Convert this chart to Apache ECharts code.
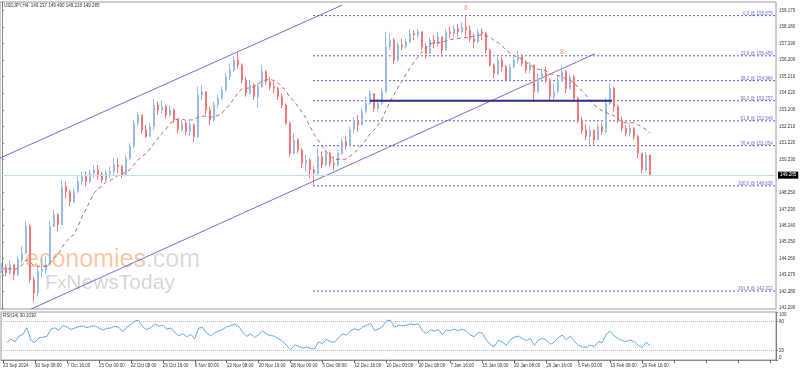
<!DOCTYPE html>
<html><head><meta charset="utf-8">
<script src="https://cdn.jsdelivr.net/npm/echarts@6/dist/echarts.min.js"></script>
<style>html,body{margin:0;padding:0;background:#fff}#c{width:800px;height:372px}</style>
</head><body><div id="c"></div>
<script>
const symbolTitle = 'USDJPY,H4  149.237 149.490 149.218 149.285';
const rsiTitle = 'RSI(14) 30.1030';
const dateLabels = ['23 Sep 2024','30 Sep 08:00','7 Oct 16:00','15 Oct 00:00','22 Oct 08:00','29 Oct 16:00','6 Nov 00:00','13 Nov 08:00','20 Nov 16:00','28 Nov 00:00','5 Dec 08:00','12 Dec 16:00','20 Dec 00:00','30 Dec 08:00','7 Jan 16:00','15 Jan 00:00','22 Jan 08:00','29 Jan 16:00','6 Feb 00:00','13 Feb 08:00','20 Feb 16:00'];
const totalBars = 194;
const firstOpen = 143.6;
const closes = [143.75,143.4,143.9,143.3,144.2,144.6,146.2,143.0,142.2,143.5,143.6,143.9,146.2,146.9,146.3,148.6,148.3,147.7,148.3,148.9,
149.2,148.9,149.4,149.6,149.3,149.0,149.4,149.5,149.9,149.8,149.3,150.3,151.0,152.4,152.9,152.0,151.6,152.2,153.5,153.2,
153.4,152.9,153.2,152.6,152.0,152.4,151.9,152.3,151.6,154.1,154.3,153.2,152.6,153.5,153.9,154.4,155.2,155.6,156.2,155.9,
155.0,154.2,154.7,154.0,154.6,155.5,154.9,154.6,154.5,154.0,153.5,152.4,150.6,151.4,150.8,150.0,150.2,149.6,149.4,150.4,
149.9,150.6,150.0,149.9,150.6,151.3,151.1,152.0,152.5,152.3,153.1,153.6,154.2,153.3,153.6,154.3,157.0,157.4,156.2,157.1,
157.0,157.3,157.8,157.7,157.9,157.0,156.6,157.4,157.2,157.6,156.8,157.9,157.8,158.1,157.9,158.2,158.0,157.5,157.3,157.9,
157.8,156.8,155.9,155.4,156.2,155.8,155.0,155.8,156.2,156.4,156.0,155.6,155.9,154.3,155.1,155.4,155.0,154.0,154.3,155.0,
155.5,154.5,155.2,153.9,152.6,152.0,151.6,152.0,151.4,152.2,151.9,153.6,154.5,153.4,152.6,152.1,151.8,152.1,151.6,150.6,
149.6,150.5,149.285];
const highs = [144.0,143.9,144.2,143.9,144.4,145.0,146.5,146.3,143.2,143.8,144.3,144.4,146.5,147.2,147.0,149.0,148.9,148.4,148.5,149.2,
149.5,149.5,149.6,149.9,149.9,149.5,149.6,149.8,150.3,150.3,149.9,150.5,151.2,152.6,153.1,152.9,152.3,152.4,153.85,153.7,
153.8,153.5,153.5,153.3,152.7,152.6,152.5,152.5,152.4,154.6,154.7,154.3,153.4,153.7,154.1,154.6,155.4,156.0,156.4,156.75,
156.0,155.2,155.0,154.8,154.8,155.9,155.6,155.2,154.9,154.6,154.2,153.6,152.5,151.8,151.5,150.9,150.5,150.3,149.8,150.9,
150.7,150.8,150.7,150.4,150.8,151.5,151.6,152.2,152.8,152.9,153.3,154.0,154.4,154.2,153.9,154.5,157.9,157.8,157.5,157.3,
157.5,157.5,158.05,158.0,158.1,157.9,157.2,157.6,157.7,157.9,157.6,158.1,158.2,158.3,158.35,158.5,158.875,158.3,157.8,158.1,
158.1,157.9,156.9,156.0,156.4,156.4,155.9,156.0,156.4,156.75,156.6,156.2,156.1,155.9,155.4,155.7,155.8,155.1,154.8,155.3,
155.9,155.6,155.4,155.3,154.0,152.8,152.3,152.2,152.0,152.4,152.4,153.9,154.8,154.6,153.5,152.8,152.3,152.4,152.2,151.7,
150.6,150.7,150.5];
const lows = [143.4,143.2,143.3,142.95,143.2,144.0,144.5,142.8,141.65,142.0,143.1,143.3,143.9,146.5,145.9,146.3,147.9,147.4,147.6,148.2,
148.7,148.6,148.8,149.1,149.0,148.8,148.9,149.1,149.3,149.4,149.1,149.2,150.2,150.9,152.2,151.8,151.5,151.6,152.0,152.9,
153.0,152.7,152.8,152.4,151.8,151.9,151.7,151.6,151.27,151.5,153.8,152.9,152.3,152.5,153.3,153.8,154.3,155.0,155.5,155.7,
154.8,154.0,154.1,153.8,153.3,154.5,154.7,154.4,154.2,153.8,153.3,152.3,150.4,150.5,150.6,149.7,149.5,149.1,148.64,149.3,
149.7,149.8,149.8,149.6,149.8,150.5,150.8,151.0,151.8,151.9,152.3,153.0,153.5,153.1,153.1,153.5,154.2,156.8,156.0,156.1,
156.8,156.9,157.2,157.4,157.5,156.8,156.3,156.6,156.9,157.0,156.4,156.8,157.5,157.6,157.6,157.8,157.6,157.3,156.9,157.2,
157.4,156.6,155.8,155.1,155.3,155.5,154.9,155.0,155.7,156.0,155.8,155.4,155.4,153.7,154.2,154.9,154.8,153.8,153.8,154.2,
154.9,154.2,154.4,153.7,152.4,151.8,151.4,151.1,151.1,151.4,151.7,151.8,153.5,153.1,152.4,151.9,151.6,151.6,151.4,150.3,
149.4,149.5,149.218];
const priceTicks = [159.17,158.18,157.19,156.2,155.21,154.22,153.2,152.21,151.22,150.23,148.25,147.23,146.24,145.25,144.26,143.27,142.28,141.29];
const rsiTicks = [0,20,80,100];
const rsiLevels = [20,80];
const fibLevels = [0,23.6,38.2,50,61.8,76.4,100,161.8];
const fibPrices = [158.875,156.459,154.964,153.757,152.549,151.054,148.638,142.312];
const fibStartBar = 77.75;
const fibEndBar = 193.5;
const fibLabelBar = 192.8;
const channelUpper = [[-0.5,150.31],[85,159.5]];
const channelLower = [[7.25,141.23],[148.25,156.58]];
const pivotLine = [[92,153.757],[152.5,153.757]];
const markers = [[116,159.33],[140,156.69]];
const maPeriod = 12;
const rsiPeriod = 8;
const priceMin = 141.233, priceMax = 159.693;

const FONT = 'Liberation Sans';
const ohlc = closes.map((c,i)=>{const o=i===0?firstOpen:closes[i-1];return [o,c,Math.min(lows[i],o,c),Math.max(highs[i],o,c)];});
const ma = closes.map((c,i)=>{const s=Math.max(0,i-maPeriod+1);let t=0;for(let k=s;k<=i;k++)t+=closes[k];return +(t/(i-s+1)).toFixed(3);});
const rsi = (()=>{const out=[];let ag=0,al=0;for(let i=0;i<closes.length;i++){if(i===0){out.push(null);continue;}const d=closes[i]-closes[i-1];const g=Math.max(d,0),l=Math.max(-d,0);if(i===1){ag=Math.max(g,0.2);al=Math.max(l,0.2);}else{ag=(ag*(rsiPeriod-1)+g)/rsiPeriod;al=(al*(rsiPeriod-1)+l)/rsiPeriod;}out.push(al===0?100:+(100-100/(1+ag/al)).toFixed(2));}return out;})();
const cats = Array.from({length: totalBars}, (_, i) => String(i));
const lastClose = closes[closes.length-1];

const series = [];
series.push({type:'candlestick', xAxisIndex:0, yAxisIndex:0, data:ohlc, barWidth:2, z:3,
  itemStyle:{color:'#a3c6ea', color0:'#f78a8a', borderColor:'#97bde6', borderColor0:'#f47878', borderWidth:1},
  markLine:{silent:true, symbol:['none','none'], animation:false, data:[{yAxis:lastClose}],
    lineStyle:{color:'#c5dbe4', type:'solid', width:1},
    label:{position:'end', formatter:()=>lastClose.toFixed(3), backgroundColor:'#000', color:'#fff', fontSize:4.5, fontFamily:FONT, padding:[1,2], distance:2}}
});
series.push({type:'line', xAxisIndex:0, yAxisIndex:0, data:ma, showSymbol:false, symbol:'none', z:4,
  lineStyle:{color:'#b86a6a', width:1, type:[4,3]}});
fibPrices.forEach((p,k)=>{
  series.push({type:'line', xAxisIndex:1, yAxisIndex:0, data:[[fibStartBar,p],[fibEndBar,p]], symbol:'none', z:2,
    lineStyle:{color:'#5c5cd4', width:1, type:[2,2]}});
  series.push({type:'scatter', xAxisIndex:1, yAxisIndex:0, data:[[fibLabelBar,p]], symbolSize:1, itemStyle:{color:'rgba(0,0,0,0)'}, z:5,
    label:{show:true, position:'left', distance:0, offset:[0,-2], formatter:()=>fibLevels[k].toFixed(1)+' @ '+p.toFixed(3), fontSize:4.5, fontFamily:FONT, color:'#4646c0'}});
});
series.push({type:'line', xAxisIndex:1, yAxisIndex:0, data:channelUpper, symbol:'none', z:2, lineStyle:{color:'#6f6fd6', width:1}});
series.push({type:'line', xAxisIndex:1, yAxisIndex:0, data:channelLower, symbol:'none', z:2, lineStyle:{color:'#6f6fd6', width:1}});
series.push({type:'line', xAxisIndex:1, yAxisIndex:0, data:pivotLine, symbol:'none', z:4, lineStyle:{color:'#2c2c8c', width:2}});
series.push({type:'scatter', xAxisIndex:1, yAxisIndex:0, data:markers, symbolSize:1, itemStyle:{color:'rgba(0,0,0,0)'}, z:5,
  label:{show:true, position:'inside', formatter:'8', fontSize:7, fontFamily:FONT, color:'#e3735a'}});
series.push({type:'line', xAxisIndex:2, yAxisIndex:1, data:rsi, showSymbol:false, symbol:'none',
  lineStyle:{color:'#5eaaf2', width:1},
  markLine:{silent:true, symbol:['none','none'], animation:false, data:rsiLevels.map(v=>({yAxis:v})),
    lineStyle:{color:'#bdbdbd', type:'dotted', width:1}, label:{show:false}}});

const option = {
  animation:false, backgroundColor:'#fff',
  grid:[{left:0, top:2, width:776, height:307, show:true, borderColor:'#9a9a9a', borderWidth:1},
        {left:0, top:312, width:776, height:48, show:true, borderColor:'#9a9a9a', borderWidth:1}],
  xAxis:[
    {type:'category', gridIndex:0, data:cats, boundaryGap:true, axisLine:{show:false}, axisTick:{show:false}, axisLabel:{show:false}, splitLine:{show:false}},
    {type:'value', gridIndex:0, min:-0.5, max:totalBars-0.5, show:false},
    {type:'category', gridIndex:1, data:cats, boundaryGap:true, axisLine:{show:true, lineStyle:{color:'#8a8a8a'}},
      axisTick:{show:true, interval:7, alignWithLabel:true, length:3, lineStyle:{color:'#666'}},
      axisLabel:{interval:7, align:'left', margin:3, fontSize:4.5, fontFamily:FONT, color:'#333',
        formatter:(v,i)=>(i%8===0 && dateLabels[i/8]) ? dateLabels[i/8] : ''}, splitLine:{show:false}}
  ],
  yAxis:[
    {type:'value', gridIndex:0, position:'right', min:priceMin, max:priceMax, splitLine:{show:false},
      axisLine:{show:true, lineStyle:{color:'#808080'}},
      axisTick:{show:true, length:2, customValues:priceTicks, lineStyle:{color:'#808080'}},
      axisLabel:{customValues:priceTicks, formatter:v=>v.toFixed(3), fontSize:4.5, fontFamily:FONT, color:'#333', margin:3}},
    {type:'value', gridIndex:1, position:'right', min:0, max:100, splitLine:{show:false},
      axisLine:{show:true, lineStyle:{color:'#808080'}},
      axisTick:{show:true, length:2, customValues:rsiTicks},
      axisLabel:{customValues:rsiTicks, fontSize:4.5, fontFamily:FONT, color:'#333', margin:3, verticalAlignMinLabel:'bottom', verticalAlignMaxLabel:'top'}}
  ],
  graphic:[
    {type:'text', x:4, y:3, z:10, style:{text:symbolTitle, fontSize:4.5, fontFamily:FONT, fill:'#333'}},
    {type:'text', x:3, y:313, z:10, style:{text:rsiTitle, fontSize:4.5, fontFamily:FONT, fill:'#333'}},
    {type:'text', x:25, y:273, z:0, style:{text:'{a|economies}{b|.com}', verticalAlign:'bottom',
      rich:{a:{fill:'#fcc6a4', fontSize:25, fontFamily:FONT}, b:{fill:'#dadada', fontSize:25, fontFamily:FONT}}}},
    {type:'text', x:45, y:294, z:0, style:{text:'{g|F}{x|x}{g|NewsToday}', verticalAlign:'bottom',
      rich:{g:{fill:'#d6d6d6', fontSize:21, fontFamily:FONT}, x:{fill:'#bfe0b9', fontSize:17, fontFamily:FONT}}}}
  ],
  series
};
const chart = echarts.init(document.getElementById('c'), null, {renderer:'canvas'});
chart.setOption(option);
</script></body></html>
